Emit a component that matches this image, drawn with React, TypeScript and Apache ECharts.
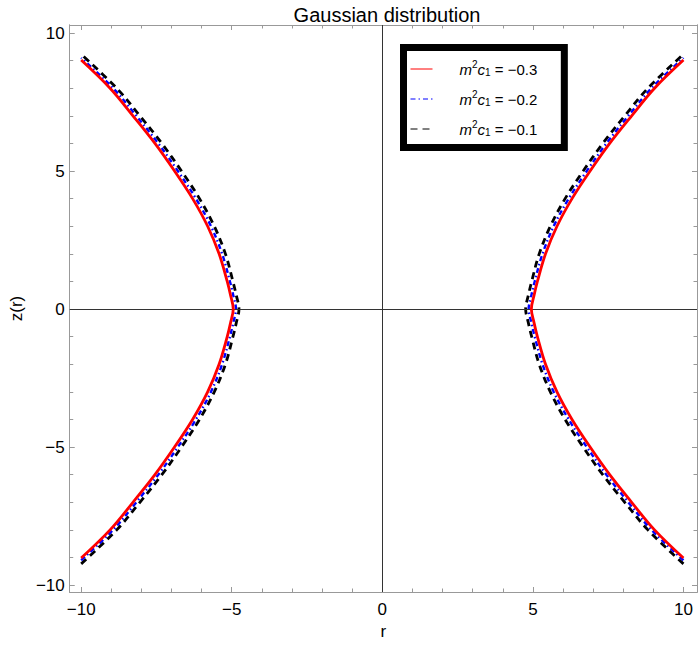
import React, { useEffect, useRef } from "react";
import * as echarts from "echarts";

// Readings for the right-upper branch: r at each z level; curves are mirror-symmetric.
const zLevels = [0, 0.5, 1, 2, 3, 4, 5, 6, 7, 8];
const rRed = [4.95, 5.04, 5.15, 5.42, 5.8, 6.3, 6.9, 7.55, 8.28, 9.04];
const rBlue = [4.86, 4.95, 5.06, 5.32, 5.69, 6.19, 6.79, 7.44, 8.17, 8.94];
const rBlack = [4.76, 4.85, 4.96, 5.21, 5.58, 6.07, 6.67, 7.32, 8.05, 8.82];
const rEnd = 10;
const zEndRed = 9.02;
const zEndBlue = 9.1;
const zEndBlack = 9.23;
const legendValues = ["\u22120.3", "\u22120.2", "\u22120.1"];
const seriesNames = ["c03", "c02", "c01"];
const xMajorTicks = [-10, -5, 0, 5, 10];
const xMinorTicks = [-10, -9, -8, -7, -6, -5, -4, -3, -2, -1, 0, 1, 2, 3, 4, 5, 6, 7, 8, 9, 10];
const yMajorTicks = [-10, -5, 0, 5, 10];
const yMinorTicks = [-10, -9, -8, -7, -6, -5, -4, -3, -2, -1, 0, 1, 2, 3, 4, 5, 6, 7, 8, 9, 10];
const titleText = "Gaussian distribution";
const xName = "r";
const yName = "z(r)";

const FONT = "Liberation Sans, Arial, sans-serif";
const FRAME = "#999999";

function branch(rs: number[], zEnd: number, sign: number): number[][] {
  const upper: number[][] = zLevels.map((z, i) => [sign * rs[i], z]);
  upper.push([sign * rEnd, zEnd]);
  const lower = upper
    .slice(1)
    .map((p) => [p[0], -p[1]])
    .reverse();
  return [...lower, ...upper];
}

const minus = (v: number) => String(v).replace("-", "\u2212");

export default function App() {
  const ref = useRef<HTMLDivElement>(null);
  useEffect(() => {
    if (!ref.current) return;
    const chart = echarts.init(ref.current, undefined, { renderer: "svg" });
    const xMin = -10.38, xMax = 10.45, yMin = -10.25, yMax = 10.29;

    const xAxis = (position: string, ticks: number[], len: number, labels: boolean, name?: string) => ({
      type: "value",
      position,
      min: xMin,
      max: xMax,
      axisLine: { show: true, onZero: false, lineStyle: { color: FRAME, width: 1 } },
      axisTick: { show: true, inside: true, length: len, customValues: ticks, lineStyle: { color: FRAME, width: 1 } },
      axisLabel: labels
        ? { show: true, customValues: ticks, formatter: minus, color: "#000", fontSize: 17, fontFamily: FONT, margin: 9 }
        : { show: false },
      splitLine: { show: false },
      name: name || "",
      nameLocation: "middle",
      nameGap: 31,
      nameTextStyle: { color: "#000", fontSize: 17, fontFamily: FONT },
    });
    const yAxis = (position: string, ticks: number[], len: number, labels: boolean, name?: string) => ({
      type: "value",
      position,
      min: yMin,
      max: yMax,
      axisLine: { show: true, onZero: false, lineStyle: { color: FRAME, width: 1 } },
      axisTick: { show: true, inside: true, length: len, customValues: ticks, lineStyle: { color: FRAME, width: 1 } },
      axisLabel: labels
        ? { show: true, customValues: ticks, formatter: minus, color: "#000", fontSize: 17, fontFamily: FONT, margin: 5 }
        : { show: false },
      splitLine: { show: false },
      name: name || "",
      nameLocation: "middle",
      nameGap: 44,
      nameTextStyle: { color: "#000", fontSize: 17, fontFamily: FONT },
    });

    const styles = [
      { color: "#ff0000", width: 2.8, type: "solid" as any },
      { color: "#0000ff", width: 2.4, type: [5, 3, 1.5, 3] as any },
      { color: "#000000", width: 2.8, type: [7, 5] as any },
    ];
    const rs = [rRed, rBlue, rBlack];
    const zEnds = [zEndRed, zEndBlue, zEndBlack];
    const series: any[] = [
      {
        type: "line",
        name: "axes0",
        data: [],
        z: 1,
        markLine: {
          silent: true,
          symbol: "none",
          label: { show: false },
          lineStyle: { color: "#333", width: 1, type: "solid" },
          data: [{ xAxis: 0 }, { yAxis: 0 }],
        },
      },
    ];
    [2, 1, 0].forEach((k) => {
      [1, -1].forEach((sign) => {
        series.push({
          type: "line",
          name: seriesNames[k],
          data: branch(rs[k], zEnds[k], sign),
          smooth: 0.35,
          symbol: "none",
          showSymbol: false,
          lineStyle: styles[k],
          itemStyle: { color: styles[k].color },
          z: 3 + (2 - k),
        });
      });
    });

    const legendMap: Record<string, string> = {};
    seriesNames.forEach((n, i) => (legendMap[n] = legendValues[i]));

    chart.setOption({
      animation: false,
      backgroundColor: "#fff",
      title: {
        text: titleText,
        left: 382,
        textAlign: "center",
        top: 0,
        textStyle: { color: "#000", fontSize: 20, fontWeight: "normal", fontFamily: FONT },
      },
      grid: { left: 67, top: 25, right: 1, bottom: 56, containLabel: false },
      xAxis: [
        xAxis("bottom", xMajorTicks, 5, true, xName),
        xAxis("bottom", xMinorTicks, 3.5, false),
        xAxis("top", xMajorTicks, 5, false),
        xAxis("top", xMinorTicks, 3.5, false),
      ],
      yAxis: [
        yAxis("left", yMajorTicks, 5, true, yName),
        yAxis("left", yMinorTicks, 3.5, false),
        yAxis("right", yMajorTicks, 5, false),
        yAxis("right", yMinorTicks, 3.5, false),
      ],
      legend: {
        data: seriesNames,
        orient: "vertical",
        left: 403.5,
        top: 47.5,
        padding: [12, 27, 10, 6.5],
        itemWidth: 22,
        itemHeight: 10,
        itemGap: 12,
        borderColor: "#000",
        borderWidth: 7,
        borderRadius: 0,
        backgroundColor: "#fff",
        selectedMode: false,
        itemStyle: { opacity: 0, borderWidth: 0 },
        lineStyle: { width: 1 },
        formatter: (n: string) => `{i|m}{sup|2}{i|c}{sub|1}{t| = ${legendMap[n]}}`,
        textStyle: {
          color: "#000",
          fontSize: 15,
          fontFamily: FONT,
          padding: [0, 0, 0, 22],
          rich: {
            i: { fontStyle: "italic", fontSize: 15, fontFamily: FONT, color: "#000" },
            sup: { fontSize: 10, fontFamily: FONT, color: "#000", padding: [0, 0, 9, 0] },
            sub: { fontSize: 10, fontFamily: FONT, color: "#000", padding: [7, 0, 0, 0] },
            t: { fontSize: 15, fontFamily: FONT, color: "#000" },
          },
        },
      },
      series,
    });
    return () => chart.dispose();
  }, []);
  return <div ref={ref} style={{ width: 698, height: 648, position: "absolute", left: 0, top: 0 }} />;
}
